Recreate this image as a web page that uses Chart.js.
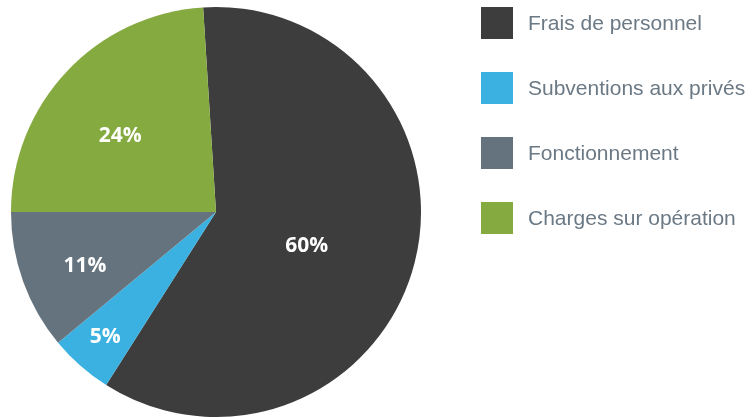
<!DOCTYPE html>
<html>
<head>
<meta charset="utf-8">
<script src="https://cdn.jsdelivr.net/npm/chart.js@4"></script>
<style>
  html, body { margin: 0; padding: 0; background: #ffffff; }
  #wrap { position: relative; width: 756px; height: 417px; }
  #legend { position: absolute; left: 481px; top: 7px; margin: 0; padding: 0; list-style: none;
    font-family: "Liberation Sans", Arial, sans-serif; font-size: 21px; color: #6b7985; }
  #legend li { display: flex; align-items: center; height: 32px; margin-bottom: 33px; white-space: nowrap; }
  #legend span.box { display: inline-block; width: 32px; height: 32px; margin-right: 15px; }
</style>
</head>
<body>
<div id="wrap">
  <canvas id="pieChart" width="756" height="417"></canvas>
  <ul id="legend"></ul>
</div>
<script>
const labels = ['Frais de personnel', 'Subventions aux privés', 'Fonctionnement', 'Charges sur opération'];
const values = [60, 5, 11, 24];
const colors = ['#3d3d3d', '#3ab1e0', '#65737e', '#85aa3f'];
// percentage label placement: fraction of radius, and nudge (degrees) from the slice middle
const labelRadius = [0.47, 0.81, 0.69, 0.6];
const labelNudge = [5.3, 0.4, -2.2, -4.3];

const legendEl = document.getElementById('legend');
labels.forEach((name, i) => {
  const li = document.createElement('li');
  li.innerHTML = '<span class="box" style="background:' + colors[i] + '"></span>' + name;
  legendEl.appendChild(li);
});

const percentLabels = {
  id: 'percentLabels',
  afterDatasetsDraw(chart) {
    const ctx = chart.ctx;
    const meta = chart.getDatasetMeta(0);
    const total = values.reduce((a, b) => a + b, 0);
    ctx.save();
    ctx.fillStyle = '#ffffff';
    ctx.font = 'bold 21px "Open Sans", sans-serif';
    ctx.textAlign = 'center';
    ctx.textBaseline = 'alphabetic';
    meta.data.forEach((arc, i) => {
      const p = arc.getProps(['x', 'y', 'startAngle', 'endAngle', 'outerRadius'], true);
      const mid = (p.startAngle + p.endAngle) / 2 + labelNudge[i] * Math.PI / 180;
      const r = p.outerRadius * labelRadius[i];
      const txt = Math.round(values[i] / total * 100) + '%';
      ctx.fillText(txt, p.x + Math.cos(mid) * r, p.y + Math.sin(mid) * r + 7.5);
    });
    ctx.restore();
  }
};

new Chart(document.getElementById('pieChart'), {
  type: 'pie',
  data: {
    labels: labels,
    datasets: [{
      data: values,
      backgroundColor: colors,
      borderWidth: 0
    }]
  },
  options: {
    responsive: false,
    animation: false,
    rotation: -3.6,
    layout: { padding: { left: 11, top: 7, right: 335, bottom: 0 } },
    plugins: {
      legend: { display: false },
      tooltip: { enabled: false }
    }
  },
  plugins: [percentLabels]
});
</script>
</body>
</html>
